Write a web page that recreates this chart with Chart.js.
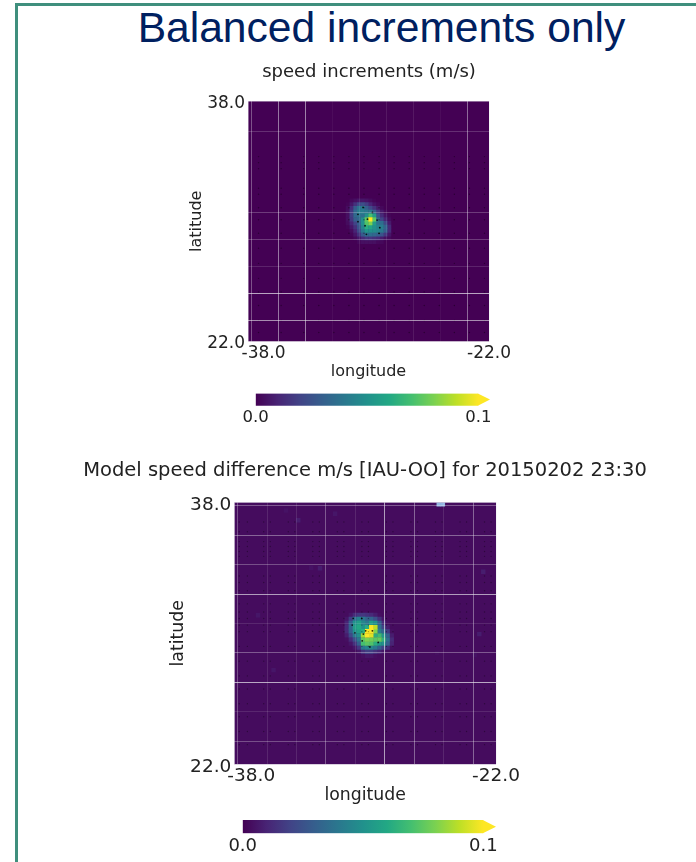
<!DOCTYPE html>
<html>
<head>
<meta charset="utf-8">
<title>Balanced increments only</title>
<script src="https://cdn.jsdelivr.net/npm/chart.js@4"></script>
<style>
    html, body { margin: 0; padding: 0; background: #fff; width: 696px; height: 862px; overflow: hidden; }
    #frame { position: absolute; left: 15px; top: 3px; right: 0; bottom: 0; border-left: 3px solid #3f8f7d; border-top: 3px solid #3f8f7d; }
    #heading { position: absolute; left: 0; top: -1px; width: 763px; text-align: center; font: 42.6px "Liberation Sans", Arial, sans-serif; line-height: 56px; color: #002060; white-space: nowrap; }
    canvas { position: absolute; filter: blur(0.35px); }
</style>
</head>
<body>
<div id="frame"></div>
<div id="heading">Balanced increments only</div>
<canvas id="incrementMap" width="440" height="330" style="left:149px;top:60px"></canvas>
<canvas id="incrementBar" width="280" height="40" style="left:225px;top:388px"></canvas>
<canvas id="differenceMap" width="600" height="357" style="left:65px;top:455px"></canvas>
<canvas id="differenceBar" width="300" height="48" style="left:210px;top:814px"></canvas>
<script>
// --- Data ---
const lonBounds = [-38, -22];
const latBounds = [22, 38];
const lonLabels = ['-38.0', '-22.0'];
const latLabels = ['22.0', '38.0'];
const barLabels = ['0.0', '0.1'];
const barBounds = [0, 0.1];

const lonLines = [-37.8, -36, -34.2, -32.4, -30.6, -28.8, -27, -25.2, -23.4];
const latLines = [37.8, 36, 34.2, 32.4, 30.6, 28.8, 27, 25.2, 23.4];

// top panel, speed increments (m/s)
const incLons = [-31.375, -31.125, -30.875, -30.625, -30.375, -30.125, -29.875, -29.625, -29.375, -29.125, -28.875, -28.625];
const incLats = [31.375, 31.125, 30.875, 30.625, 30.375, 30.125, 29.875, 29.625, 29.375, 29.125, 28.875, 28.625];
const incValues = [
    [0, .002, .004, .006, .006, .005, .003, .001, 0, 0, 0, 0],
    [.001, .006, .014, .022, .024, .018, .01, .005, .002, 0, 0, 0],
    [.003, .012, .028, .038, .04, .03, .022, .014, .007, .002, 0, 0],
    [.004, .016, .034, .042, .042, .04, .04, .03, .016, .007, .002, 0],
    [.004, .018, .034, .038, .036, .05, .07, .055, .026, .012, .005, .001],
    [.004, .016, .03, .034, .05, .075, .1, .075, .034, .02, .01, .003],
    [.003, .01, .02, .03, .05, .072, .08, .055, .038, .036, .022, .007],
    [.001, .006, .014, .026, .045, .062, .058, .05, .044, .042, .032, .012],
    [0, .003, .01, .022, .04, .052, .05, .048, .045, .04, .03, .012],
    [0, .001, .006, .014, .028, .036, .036, .034, .03, .026, .016, .006],
    [0, 0, .002, .006, .012, .016, .016, .014, .012, .008, .004, .002],
    [0, 0, 0, .002, .004, .004, .004, .004, .002, .002, 0, 0]
];
const incDotLons = [-37.3, -35.8, -34.3, -33.3, -32.3, -31.3, -30.3, -29.3, -28.3, -27.3, -26.3, -25.3, -24.3, -23.3, -22.3];
const incDotLats = [34.3, 33.9, 33.5, 32.2, 31.8, 30.9, 30.1, 29.2, 28.2, 27.2, 26.2, 25.3, 24.4, 23.4, 22.6];
const incCoreDotLons = [-30.36, -29.74, -30.7, -30.7, -30.07, -29.43, -30.23, -29.25, -30.14, -29.3];
const incCoreDotLats = [30.92, 30.59, 30.46, 29.97, 30.14, 30.08, 29.7, 29.57, 29.13, 29.2];

// bottom panel, model speed difference
const diffLons = [-31.125, -30.875, -30.625, -30.375, -30.125, -29.875, -29.625, -29.375, -29.125, -28.875, -28.625, -28.375];
const diffLats = [31.125, 30.875, 30.625, 30.375, 30.125, 29.875, 29.625, 29.375, 29.125, 28.875, 28.625];
const diffValues = [
    [0, .006, .012, .016, .016, .014, .012, .008, .004, 0, 0, 0],
    [.006, .018, .036, .044, .04, .032, .032, .024, .014, .006, 0, 0],
    [.01, .03, .05, .056, .045, .04, .055, .05, .03, .012, .004, 0],
    [.012, .032, .055, .06, .05, .062, .1, .09, .036, .02, .008, .002],
    [.012, .03, .05, .056, .062, .1, .1, .08, .042, .032, .016, .004],
    [.008, .022, .04, .05, .085, .1, .095, .062, .068, .052, .03, .008],
    [.004, .012, .024, .04, .075, .08, .078, .074, .076, .064, .036, .012],
    [.002, .006, .014, .03, .07, .074, .072, .062, .054, .05, .03, .01],
    [0, .002, .006, .016, .04, .045, .045, .04, .03, .02, .012, .004],
    [0, 0, .002, .006, .014, .018, .018, .014, .01, .006, .002, 0],
    [0, 0, 0, 0, .004, .006, .006, .004, .002, 0, 0, 0]
];
const noiseLons = [-34.09, -32.76, -22.78, -23.02, -35.6, -31.84, -36.55, -33.3, -23.3, -25.6, -34.84];
const noiseLats = [36.9, 33.97, 33.76, 29.95, 27.75, 37.3, 31.1, 34, 28.67, 28.8, 37.5];
const noiseValues = [.008, .008, .008, .008, .006, .006, .006, .005, .005, .004, .005];
const missingLons = [-25.5, -25.25];
const missingLats = [37.875, 37.875];
const diffDotLons = [-37.7, -37.2, -36.2, -35.8, -34.7, -34.3, -33.2, -32.8, -31.7, -31.3, -30.2, -29.8, -28.7, -28.3, -27.2, -26.8, -25.7, -25.3, -24.2, -23.8, -22.7, -22.3];
const diffDotLats = [36.8, 36.2, 35.6, 35.3, 35, 34.7, 33.5, 33.1, 32.6, 31.8, 31.3, 30.9, 30.5, 30.1, 29.2, 28.3, 27.4, 26.6, 25.7, 24.9, 24, 23.2];
const diffCoreDotLons = [-30.73, -30.21, -30.62, -30.11, -29.97, -29.56, -30.18, -29.2, -29.71, -30.79];
const diffCoreDotLats = [30.91, 30.91, 30.03, 29.95, 30.15, 30.15, 29.54, 29.44, 29.17, 30.5];

// viridis
const viridisStops = [
    [68, 1, 84], [72, 36, 117], [65, 68, 135], [53, 95, 141], [42, 120, 142],
    [33, 145, 140], [34, 168, 132], [68, 191, 112], [122, 209, 81], [189, 223, 38], [253, 231, 37]
];

function viridis(value) {
    const t = Math.min(Math.max(value / barBounds[1], 0), 1) * (viridisStops.length - 1);
    const i = Math.min(Math.floor(t), viridisStops.length - 2);
    const f = t - i;
    const c = viridisStops[i].map((v, k) => Math.round(v + (viridisStops[i + 1][k] - v) * f));
    return `rgb(${c[0]}, ${c[1]}, ${c[2]})`;
}

// cells at or below the plot background are left out, the background shows there
function matrixPoints(lons, lats, values, floor) {
    const points = [];
    lats.forEach((lat, r) => lons.forEach((lon, c) => {
        if (values[r][c] > floor) points.push({ x: lon, y: lat, v: values[r][c] });
    }));
    return points.sort((a, b) => a.v - b.v);
}

function latticePoints(lons, lats) {
    const points = [];
    lats.forEach(lat => lons.forEach(lon => points.push({ x: lon, y: lat })));
    return points;
}

function pairPoints(lons, lats, values) {
    return lons.map((lon, i) => ({ x: lon, y: lats[i], v: values ? values[i] : 0 }));
}

// one cell is a quarter of a degree wide
function cellRadius(ctx) {
    const x = ctx.chart.scales.x;
    return Math.abs(x.getPixelForValue(0.25 + lonBounds[0]) - x.getPixelForValue(lonBounds[0])) / Math.SQRT2 + 0.25;
}

const plotBackground = {
    id: 'plotBackground',
    beforeDatasetsDraw(chart, args, opts) {
        const a = chart.chartArea;
        chart.ctx.save();
        chart.ctx.fillStyle = opts.color;
        chart.ctx.fillRect(a.left, a.top, a.width, a.height);
        chart.ctx.restore();
    }
};

// matplotlib left the first longitude label pushed off its tick, latitude labels sit a bit low
const nudgeLabels = {
    id: 'nudgeLabels',
    afterUpdate(chart, args, opts) {
        chart.scales.x.getLabelItems(chart.chartArea).forEach(item => {
            if (item.label === lonLabels[0]) item.options.translation[0] += opts.shift;
        });
        chart.scales.y.getLabelItems(chart.chartArea).forEach(item => {
            if (item.label) item.options.translation[1] += opts.drop;
        });
    }
};

function makeMap(id, cfg) {
    const gridColor = (alphas) => (ctx) => {
        const a = alphas[ctx.index];
        return `rgba(235, 235, 240, ${a === undefined ? 0 : a})`;
    };
    const xTicks = [lonBounds[0], ...lonLines, lonBounds[1]];
    const yTicks = [latBounds[1], ...latLines, latBounds[0]];

    new Chart(document.getElementById(id), {
        type: 'scatter',
        data: {
            datasets: [
                { data: cfg.coreDots, pointRadius: cfg.coreDotRadius, backgroundColor: 'rgba(0, 0, 0, 0.85)', borderWidth: 0 },
                { data: cfg.dots, pointRadius: cfg.dotRadius, backgroundColor: cfg.dotColor, borderWidth: 0 },
                {
                    data: cfg.cells, pointStyle: 'rect', pointRadius: cellRadius, borderWidth: 0,
                    backgroundColor: (ctx) => ctx.raw && ctx.raw.color ? ctx.raw.color : viridis(ctx.raw ? ctx.raw.v : 0)
                }
            ]
        },
        options: {
            responsive: false,
            animation: false,
            devicePixelRatio: 1,
            layout: { autoPadding: false, padding: 0 },
            plugins: {
                legend: { display: false },
                tooltip: { enabled: false },
                title: {
                    display: true,
                    text: cfg.title,
                    color: '#222',
                    font: { family: 'DejaVu Sans', size: cfg.titleSize, weight: 'normal' },
                    padding: cfg.titlePad
                },
                plotBackground: { color: viridis(cfg.background) },
                nudgeLabels: { shift: cfg.labelShift, drop: cfg.labelDrop }
            },
            scales: {
                x: {
                    type: 'linear',
                    min: lonBounds[0],
                    max: lonBounds[1],
                    afterBuildTicks: (s) => { s.ticks = xTicks.map(value => ({ value })); },
                    afterFit: (s) => { s.height = cfg.xHeight; },
                    grid: { z: 1, drawTicks: false, color: gridColor(cfg.lonAlpha), lineWidth: 1 },
                    border: { display: false },
                    ticks: {
                        autoSkip: false, maxRotation: 0, padding: cfg.xTickPad, color: '#222',
                        font: { family: 'DejaVu Sans', size: cfg.tickSize },
                        callback: (v) => { const i = lonBounds.indexOf(v); return i < 0 ? '' : lonLabels[i]; }
                    },
                    title: {
                        display: true, text: 'longitude', color: '#222',
                        font: { family: 'DejaVu Sans', size: cfg.axisSize },
                        padding: { top: 0, bottom: cfg.xTitlePad }
                    }
                },
                y: {
                    type: 'linear',
                    min: latBounds[0],
                    max: latBounds[1],
                    afterBuildTicks: (s) => { s.ticks = yTicks.map(value => ({ value })); },
                    afterFit: (s) => { s.width = cfg.yWidth; },
                    grid: { z: 1, drawTicks: false, color: gridColor(cfg.latAlpha), lineWidth: 1 },
                    border: { display: false },
                    ticks: {
                        autoSkip: false, padding: 3, color: '#222',
                        font: { family: 'DejaVu Sans', size: cfg.tickSize },
                        callback: (v) => { const i = latBounds.indexOf(v); return i < 0 ? '' : latLabels[i]; }
                    },
                    title: {
                        display: true, text: 'latitude', color: '#222',
                        font: { family: 'DejaVu Sans', size: cfg.axisSize },
                        padding: { top: cfg.yTitlePad, bottom: 0 }
                    }
                },
                // empty axis that keeps the plot off the right edge, so the title stays centred on the plot
                spacer: {
                    type: 'linear',
                    position: 'right',
                    afterFit: (s) => { s.width = cfg.rightPad; },
                    grid: { display: false },
                    border: { display: false },
                    ticks: { display: false }
                }
            }
        },
        plugins: [plotBackground, nudgeLabels]
    });
}

const extendArrow = {
    id: 'extendArrow',
    afterDatasetsDraw(chart, args, opts) {
        const a = chart.chartArea;
        const base = chart.scales.x.getPixelForValue(barBounds[1]);
        const c = chart.ctx;
        c.save();
        c.fillStyle = '#fde725';
        c.beginPath();
        c.moveTo(base - 0.5, a.top);
        c.lineTo(base + opts.length, (a.top + a.bottom) / 2);
        c.lineTo(base - 0.5, a.bottom);
        c.closePath();
        c.fill();
        c.restore();
    }
};

function makeColorbar(id, cfg) {
    new Chart(document.getElementById(id), {
        type: 'bar',
        data: {
            labels: ['speed'],
            datasets: [{
                data: [barBounds],
                categoryPercentage: 1,
                barPercentage: 1,
                borderSkipped: false,
                borderWidth: 0,
                backgroundColor: (ctx) => {
                    const a = ctx.chart.chartArea;
                    if (!a) return viridis(0);
                    const g = ctx.chart.ctx.createLinearGradient(a.left, 0, a.right, 0);
                    viridisStops.forEach((s, i) => g.addColorStop(i / (viridisStops.length - 1), `rgb(${s.join(',')})`));
                    return g;
                }
            }]
        },
        options: {
            indexAxis: 'y',
            responsive: false,
            animation: false,
            devicePixelRatio: 1,
            layout: { autoPadding: false, padding: cfg.padding },
            plugins: { legend: { display: false }, tooltip: { enabled: false }, extendArrow: { length: cfg.arrow } },
            scales: {
                x: {
                    type: 'linear',
                    min: barBounds[0],
                    max: barBounds[1],
                    afterBuildTicks: (s) => { s.ticks = barBounds.map(value => ({ value })); },
                    afterFit: (s) => { s.height = cfg.xHeight; },
                    grid: { display: false, drawTicks: false },
                    border: { display: false },
                    ticks: {
                        autoSkip: false, maxRotation: 0, padding: 2, color: '#222',
                        font: { family: 'DejaVu Sans', size: cfg.tickSize },
                        callback: (v) => barLabels[barBounds.indexOf(v)]
                    }
                },
                y: { display: false }
            }
        },
        plugins: [extendArrow]
    });
}

makeMap('incrementMap', {
    title: 'speed increments (m/s)',
    titleSize: 18,
    titlePad: { top: 1.2, bottom: 18.2 },
    tickSize: 17,
    axisSize: 16,
    rightPad: 100,
    yWidth: 99,
    xHeight: 48.5,
    xTickPad: 2,
    xTitlePad: 9,
    yTitlePad: 38.5,
    labelShift: 15.5,
    labelDrop: 2.5,
    background: 0,
    cells: matrixPoints(incLons, incLats, incValues, 0),
    dots: latticePoints(incDotLons, incDotLats),
    coreDots: pairPoints(incCoreDotLons, incCoreDotLats),
    dotRadius: 0.7,
    dotColor: 'rgba(0, 0, 0, 0.4)',
    coreDotRadius: 0.9,
    lonAlpha: [0.45, 0.35, 0.5, 0.55, 0.05, 0.1, 0.1, 0.1, 0.05, 0.45, 0.5],
    latAlpha: [0.45, 0, 0.2, 0, 0, 0.25, 0.25, 0.15, 0.7, 0.6, 0.5]
});

makeMap('differenceMap', {
    title: 'Model speed difference m/s [IAU-OO] for 20150202 23:30',
    titleSize: 19.5,
    titlePad: { top: 4.3, bottom: 19.6 },
    tickSize: 18.5,
    axisSize: 17.3,
    rightPad: 169,
    yWidth: 169.3,
    xHeight: 47.7,
    xTickPad: 1,
    xTitlePad: 6.6,
    yTitlePad: 103.5,
    labelShift: 17,
    labelDrop: 2.5,
    background: 0.003,
    cells: [
        ...matrixPoints(diffLons, diffLats, diffValues, 0.003),
        ...pairPoints(noiseLons, noiseLats, noiseValues),
        ...pairPoints(missingLons, missingLats).map(p => ({ ...p, color: '#93b7e3' }))
    ],
    dots: latticePoints(diffDotLons, diffDotLats),
    coreDots: pairPoints(diffCoreDotLons, diffCoreDotLats),
    dotRadius: 0.7,
    dotColor: 'rgba(0, 0, 0, 0.35)',
    coreDotRadius: 0.9,
    lonAlpha: [0.5, 0.3, 0.12, 0.12, 0.35, 0.12, 0.65, 0.4, 0.12, 0.4, 0.5],
    latAlpha: [0.5, 0.35, 0.4, 0.3, 0.65, 0.12, 0.35, 0.7, 0.12, 0.3, 0.5]
});

makeColorbar('incrementBar', {
    padding: { left: 30.7, right: 26.7, top: 5.5, bottom: 0 },
    xHeight: 22.3,
    tickSize: 16.5,
    arrow: 11.7
});

makeColorbar('differenceBar', {
    padding: { left: 32.7, right: 26.7, top: 6, bottom: 0 },
    xHeight: 28.7,
    tickSize: 18,
    arrow: 12.7
});
</script>
</body>
</html>
